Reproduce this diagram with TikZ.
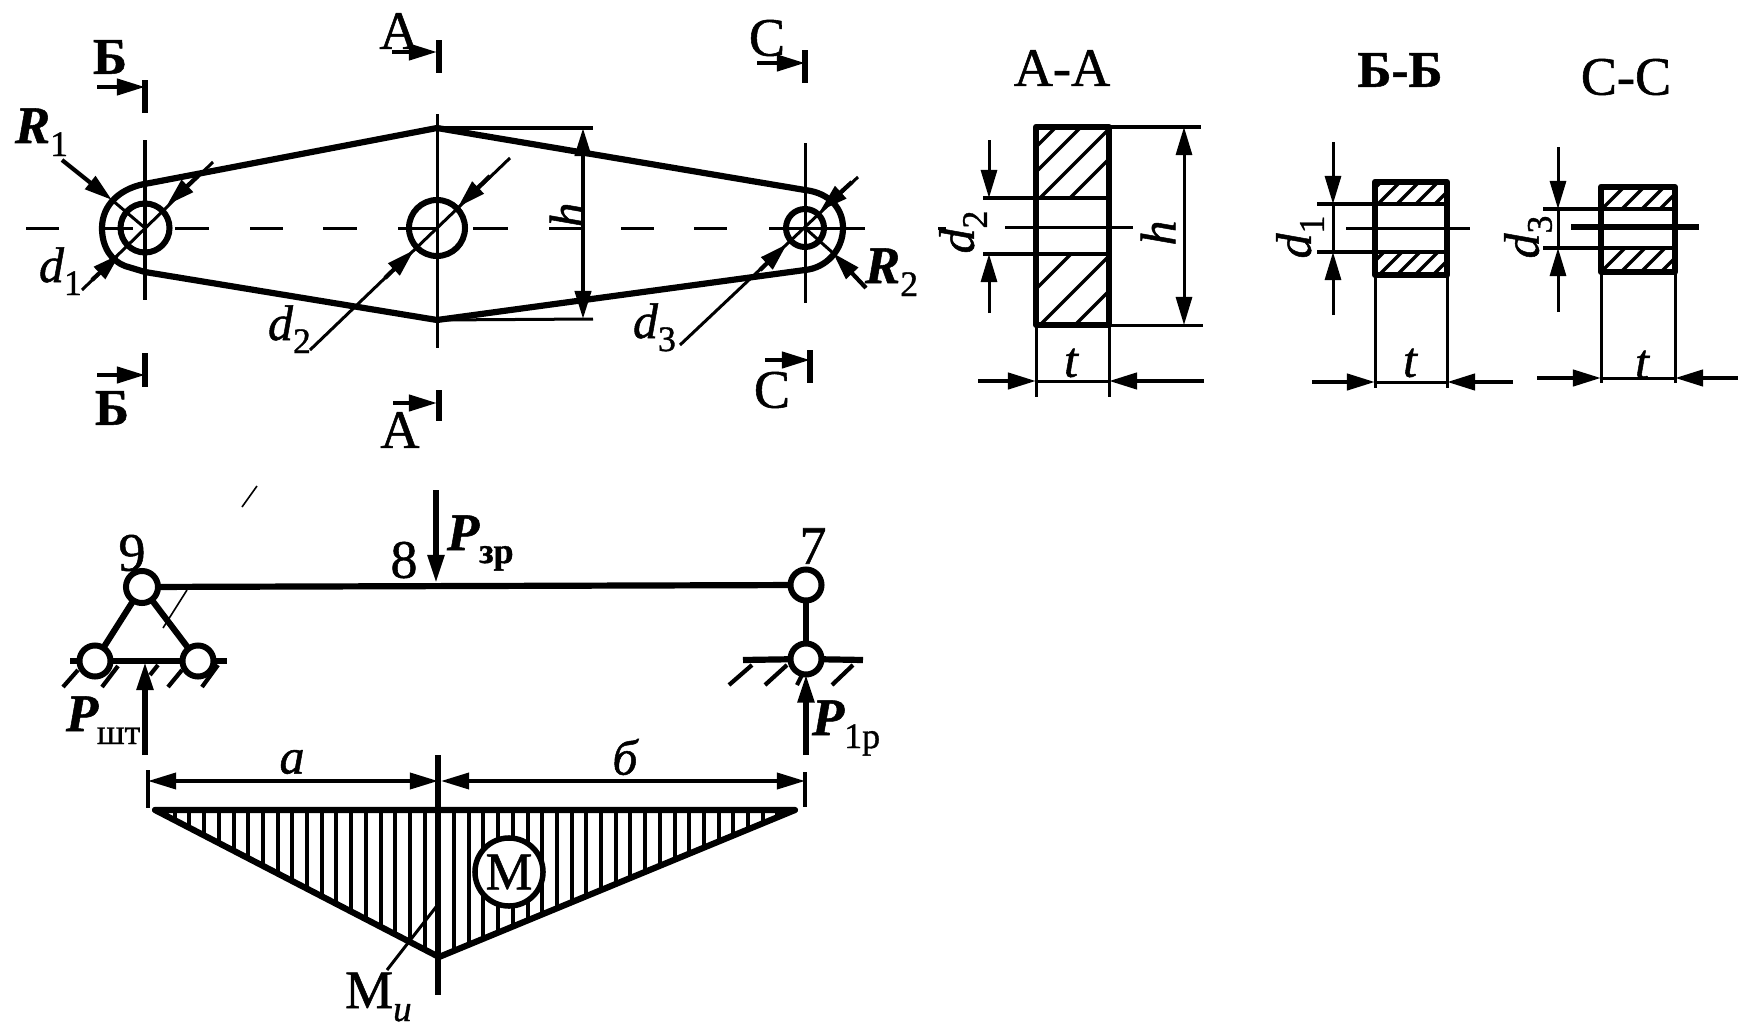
\documentclass[tikz,border=0pt]{standalone}
\usepackage{fontspec}
\setmainfont{Liberation Serif}[FakeBold=1]
\usetikzlibrary{arrows.meta}
\newcommand\subs[2]{#1\raisebox{-0.13cm}{\fontsize{10.2}{10.2}\selectfont\upshape\mdseries #2}}
\tikzset{
  x=0.01cm,y=-0.01cm,
  thick line/.style={line width=0.062cm,line cap=round,line join=round},
  mid line/.style={line width=0.042cm},
  thin line/.style={line width=0.03cm},
  hair/.style={line width=0.016cm},
  hatch/.style={line width=0.032cm},
  tip/.style={-{Triangle[length=0.28cm,width=0.16cm]}},
  tips/.style={{Triangle[length=0.28cm,width=0.16cm]}-{Triangle[length=0.28cm,width=0.16cm]}},
  hole/.style={circle,draw,line width=0.06cm,inner sep=0pt,outer sep=0pt},
  pin/.style={circle,draw,fill=white,line width=0.06cm,inner sep=0pt,outer sep=0pt,minimum size=0.31cm},
  lbl/.style={inner sep=0pt,outer sep=0pt,font=\fontsize{14.2}{14.2}\selectfont},
  ital/.style={lbl,font=\fontsize{14.2}{14.2}\selectfont\itshape},
  boldital/.style={lbl,anchor=base west,font=\fontsize{15}{15}\selectfont\itshape\bfseries},
  sect/.style={inner sep=0pt,outer sep=0pt,font=\fontsize{15.4}{15.4}\selectfont},
  sectb/.style={inner sep=0pt,outer sep=0pt,font=\fontsize{14.6}{14.6}\selectfont\bfseries},
}
\begin{document}
\begin{tikzpicture}
\useasboundingbox (0,0) rectangle (1738,1027);
% ----- link, top view
\coordinate (ctop) at (437,128);
\coordinate (cbot) at (437,320);
\draw[thick line] (ctop) -- (150,183) .. controls (120,187) and (102,205) .. (102,228)
  .. controls (102,248) and (112,261) .. (125,266) -- (145,272) -- (cbot) -- (805,270)
  .. controls (826,268) and (843,250) .. (843,228) .. controls (843,209) and (830,193) .. (805,190) -- cycle;
\node[hole,minimum size=0.49cm] (h1) at (145,228) {};
\node[hole,minimum size=0.56cm] (h2) at (437,228) {};
\node[hole,minimum size=0.38cm] (h3) at (805,228) {};
% centre line
\foreach \a/\b in {26/59,105/133,175/209,250/283,323/357,398/437,473/508,549/581,621/654,694/727,769/865,938/946}
  \draw[thin line] (\a,228) -- (\b,228);
% verticals
\draw[thin line] (145,140) -- (145,300);
\draw[thin line] (437,114) -- (437,348);
\draw[thin line] (805,143) -- (805,303);
% section marks
\foreach \x/\a/\b in {145/80/113,145/353/387,439/40/73,439/390/421,805/50/83,810/350/383}
  \draw[thick line,line cap=butt] (\x,\a) -- (\x,\b);
\foreach \a/\b/\y in {97/145/87,97/145/375,392/437/52,393/437/403,757/805/63,765/810/360}
  \draw[mid line,tip] (\a,\y) -- (\b,\y);
\node[sectb] (sB1) at (110,57) {Б};
\node[sectb] (sB2) at (112,408) {Б};
\node[sect] (sA1) at (399,31) {А};
\node[sect] (sA2) at (400,430) {А};
\node[sect] (sC1) at (767,38) {С};
\node[sect] (sC2) at (772,390) {С};
% diameters
\draw[thin line] (82,290) -- (213,162);
\draw[mid line,tip] (92,280) -- (120,254);
\draw[mid line,tip] (198,176) -- (167,205);
\draw[thin line] (310,350) -- (510,158);
\draw[mid line,tip] (385,278) -- (414,250);
\draw[mid line,tip] (490,176) -- (458,207);
\draw[thin line] (680,345) -- (858,177);
\draw[mid line,tip] (760,270) -- (787,244);
\draw[mid line,tip] (852,182) -- (820,211);
% radii
\draw[mid line,tip] (62,160) -- (112,200);
\draw[thin line] (112,200) -- (145,228);
\draw[mid line,tip] (866,288) -- (833,253);
\draw[thin line] (833,253) -- (805,228);
% h
\draw[thin line] (ctop) -- (593,128);
\draw[thin line] (cbot) -- (593,319);
\draw[mid line,tips] (583,128) -- (583,319);
\node[ital,rotate=90] (h) at (567,215) {h};
\node[boldital] (r1) at (15,143) {\subs{R}{1}};
\node[ital,anchor=base west] (d1) at (39,282) {\subs{d}{1}};
\node[ital,anchor=base west] (d2) at (268,340) {\subs{d}{2}};
\node[ital,anchor=base west] (d3) at (633,338) {\subs{d}{3}};
\node[boldital] (r2) at (865,283) {\subs{R}{2}};
% ----- section A-A
\node[sect] (tA) at (1062,68) {А-А};
\begin{scope}
\clip (1035,127) rectangle (1111,198);
\foreach \s in {1183,1208,1238,1268} \draw[hatch] (\s-120,120) -- (\s-210,210);
\end{scope}
\begin{scope}
\clip (1035,254) rectangle (1111,325);
\foreach \s in {1325,1365,1400} \draw[hatch] (\s-250,250) -- (\s-330,330);
\end{scope}
\draw[thick line,line cap=butt] (1036,127) rectangle (1109,325);
\draw[mid line] (983,198) -- (1109,198);
\draw[mid line] (983,254) -- (1109,254);
\draw[thin line] (1005,227) -- (1133,227);
\draw[thin line] (1036,325) -- (1036,397);
\draw[thin line] (1109,325) -- (1109,397);
\draw[mid line,tip] (978,381) -- (1036,381);
\draw[mid line,tip] (1204,381) -- (1109,381);
\draw[thin line] (1036,381) -- (1109,381);
\node[ital] (tt1) at (1071,363) {t};
\draw[thin line] (1109,127) -- (1201,127);
\draw[thin line] (1109,325) -- (1203,325);
\draw[thin line,tips] (1184,127) -- (1184,325);
\node[ital,rotate=90] (h2t) at (1158,233) {h};
\draw[thin line,tip] (989,140) -- (989,198);
\draw[thin line,tip] (989,313) -- (989,254);
\node[ital,rotate=90] (dd2) at (963,232) {\subs{d}{2}};
% ----- section B-B
\node[sectb] (tB) at (1400,70) {Б-Б};
\begin{scope}
\clip (1375,182) rectangle (1448,204);
\foreach \s in {1563,1582,1601,1620,1639} \draw[hatch] (\s-180,180) -- (\s-210,210);
\end{scope}
\begin{scope}
\clip (1375,252) rectangle (1448,275);
\foreach \s in {1636,1654,1672,1690,1708} \draw[hatch] (\s-250,250) -- (\s-280,280);
\end{scope}
\draw[thick line,line cap=butt] (1375,182) rectangle (1447,275);
\draw[mid line] (1317,204) -- (1447,204);
\draw[mid line] (1317,252) -- (1447,252);
\draw[thin line] (1346,228) -- (1470,228);
\draw[thin line] (1375,275) -- (1375,388);
\draw[thin line] (1447,275) -- (1447,388);
\draw[mid line,tip] (1312,382) -- (1375,382);
\draw[mid line,tip] (1513,382) -- (1447,382);
\draw[thin line] (1375,382) -- (1447,382);
\node[ital] (tt2) at (1410,363) {t};
\draw[thin line,tip] (1333,142) -- (1333,204);
\draw[thin line,tip] (1333,315) -- (1333,252);
\draw[thin line] (1333,204) -- (1333,252);
\node[ital,rotate=90] (dd1) at (1300,237) {\subs{d}{1}};
% ----- section C-C
\node[sect] (tC) at (1626,77) {С-С};
\begin{scope}
\clip (1601,187) rectangle (1676,209);
\foreach \s in {1811,1831,1851,1869} \draw[hatch] (\s-185,185) -- (\s-215,215);
\end{scope}
\begin{scope}
\clip (1601,248) rectangle (1676,272);
\foreach \s in {1873,1893,1913,1933} \draw[hatch] (\s-245,245) -- (\s-275,275);
\end{scope}
\draw[thick line,line cap=butt] (1601,187) rectangle (1675,272);
\draw[mid line] (1543,209) -- (1675,209);
\draw[mid line] (1543,248) -- (1675,248);
\draw[thick line,line cap=butt] (1571,227) -- (1699,227);
\draw[thin line] (1601,272) -- (1601,383);
\draw[thin line] (1675,272) -- (1675,383);
\draw[mid line,tip] (1537,378) -- (1601,378);
\draw[mid line,tip] (1738,378) -- (1675,378);
\draw[thin line] (1601,378) -- (1675,378);
\node[ital] (tt3) at (1642,365) {t};
\draw[thin line,tip] (1558,147) -- (1558,209);
\draw[thin line,tip] (1558,312) -- (1558,248);
\draw[thin line] (1558,209) -- (1558,248);
\node[ital,rotate=90] (dd3) at (1528,237) {\subs{d}{3}};
% ----- beam scheme
\node[pin,minimum size=0.32cm] (p9) at (142,587) {};
\node[pin] (pa) at (95,661) {};
\node[pin] (pb) at (198,661) {};
\node[pin] (p7) at (806,585) {};
\node[pin] (pc) at (806,659) {};
\draw[thick line,line cap=butt] (p9) -- (p7);
\draw[thick line,line cap=butt] (p9) -- (pa);
\draw[thick line,line cap=butt] (p9) -- (pb);
\draw[thick line,line cap=butt] (pa) -- (pb);
\draw[thick line,line cap=butt] (p7) -- (pc);
\draw[thick line,line cap=butt] (pb) -- (227,661);
\draw[thick line,line cap=butt] (pa) -- (70,661);
\draw[thick line,line cap=butt] (743,660) -- (pc);
\draw[thick line,line cap=butt] (pc) -- (863,660);
\foreach \a/\b/\c/\d in {63/687/78/670,102/687/118/666,168/687/182/670,202/687/218/665,150/675/158/665,
  729/685/752/665,765/685/787/665,797/685/802/675,832/685/853/665}
  \draw[mid line] (\a,\b) -- (\c,\d);
\draw[hair] (163,628) -- (187,590);
\draw[hair] (242,507) -- (257,486);
\draw[line width=0.055cm,tip] (436,490) -- (436,583);
\draw[line width=0.055cm,tip] (145,755) -- (145,662);
\draw[line width=0.055cm,tip] (806,755) -- (pc.south);
\node[sect] (n9) at (132,553) {9};
\node[sect] (n8) at (404,560) {8};
\node[sect] (n7) at (813,546) {7};
\node[boldital] (pz) at (447,550) {\subs{P}{\bfseries зр}};
\node[boldital] (ps) at (66,731) {P};
\node[inner sep=0pt,anchor=base east,font=\fontsize{10.2}{10.2}\selectfont] (psub) at (141,744) {шт};
\node[boldital] (pr) at (812,735) {\subs{P}{1р}};
% ----- dimensions a, b
\draw[line width=0.036cm,tips] (148,781) -- (438,781);
\draw[line width=0.036cm,tips] (441,781) -- (805,781);
\draw[mid line] (148,770) -- (148,808);
\draw[mid line] (805,772) -- (805,807);
\node[ital] (la) at (292,762) {a};
\node[ital] (lb) at (625,757) {б};
% ----- moment diagram
\coordinate (tl) at (155,810);
\coordinate (tr) at (795,810);
\coordinate (ap) at (439,957);
\begin{scope}
\clip (tl) -- (tr) -- (ap) -- cycle;
\foreach \i in {0,...,43} \draw[line width=0.04cm] (160+14.7*\i,805) -- (160+14.7*\i,960);
\end{scope}
\draw[thick line] (tl) -- (tr) -- (ap) -- cycle;
\draw[line width=0.055cm] (438,755) -- (438,995);
\node[circle,draw,fill=white,line width=0.055cm,inner sep=0pt,minimum size=0.68cm,font=\fontsize{15}{15}\selectfont] (m) at (509,872) {М};
\coordinate (lead) at (387,970);
\draw[thin line] (lead) -- (436,907);
\node[sect,anchor=base west] (mi) at (345,1008) {М\raisebox{-0.13cm}{\fontsize{10.5}{10.5}\selectfont\itshape и}};
\end{tikzpicture}
\end{document}
